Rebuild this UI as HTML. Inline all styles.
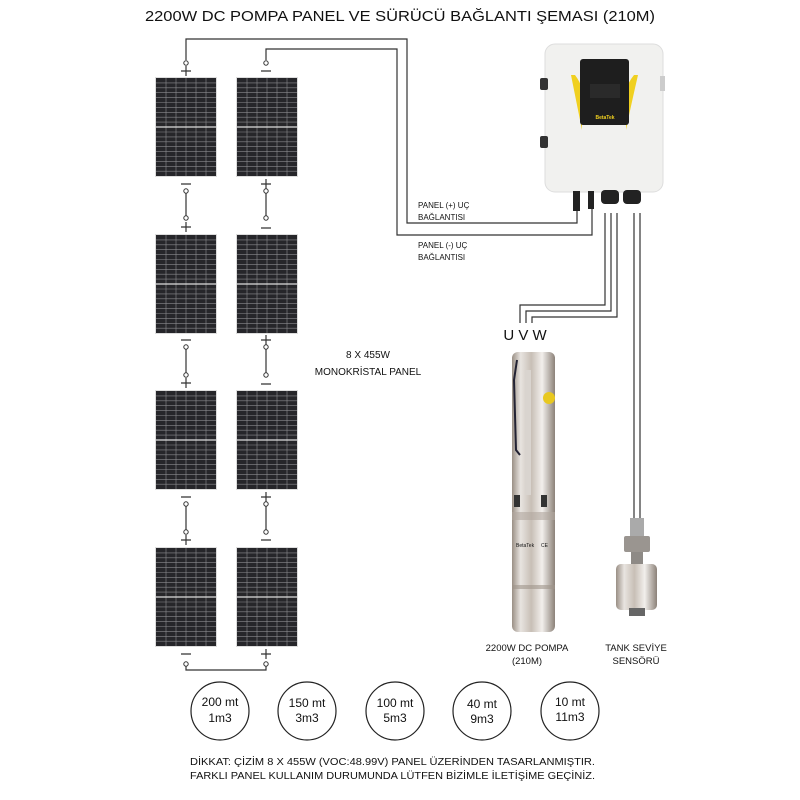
<!DOCTYPE html>
<html><head><meta charset="utf-8"><style>
body{margin:0;background:#fff}
svg{display:block}
text{font-family:"Liberation Sans",sans-serif;fill:#111}
</style></head><body>
<svg width="800" height="800" viewBox="0 0 800 800" xmlns="http://www.w3.org/2000/svg">
<defs>
<linearGradient id="steel" x1="0" x2="1">
<stop offset="0" stop-color="#9a8f85"/><stop offset="0.2" stop-color="#e8e4e0"/><stop offset="0.45" stop-color="#c8bfb6"/><stop offset="0.7" stop-color="#f2efec"/><stop offset="1" stop-color="#8c8279"/>
</linearGradient>
<g id="panel">
<rect x="-1" y="-1" width="62" height="100" fill="#ddd"/>
<rect width="60" height="98" fill="#26262a"/>
<g stroke="#8a8a8e" stroke-width="0.6">
<path d="M0 4.9H60M0 9.8H60M0 14.7H60M0 19.6H60M0 24.5H60M0 29.4H60M0 34.3H60M0 39.2H60M0 44.1H60M0 54H60M0 58.9H60M0 63.8H60M0 68.7H60M0 73.6H60M0 78.5H60M0 83.4H60M0 88.3H60M0 93.2H60"/>
<path d="M10 0V98M20 0V98M30 0V98M40 0V98M50 0V98"/>
</g>
<path d="M0 49H60" stroke="#ddd" stroke-width="1.2"/>
</g>
</defs>

<text x="145" y="21" font-size="14.5" textLength="510" lengthAdjust="spacingAndGlyphs">2200W DC POMPA PANEL VE SÜRÜCÜ BAĞLANTI ŞEMASI (210M)</text>

<use href="#panel" x="156" y="78"/><use href="#panel" x="237" y="78"/>
<use href="#panel" x="156" y="235"/><use href="#panel" x="237" y="235"/>
<use href="#panel" x="156" y="391"/><use href="#panel" x="237" y="391"/>
<use href="#panel" x="156" y="548"/><use href="#panel" x="237" y="548"/>

<g stroke="#333" stroke-width="1.2" fill="none">
<path d="M186 60V39H407V223H577V205"/>
<path d="M266 60V49H397V235H592V205"/>
<path d="M186 191V218M266 191V218M186 347V375M266 347V375M186 504V532M266 504V532"/>
<path d="M186 664V670H266V664"/>
<path d="M605 213V305H520V323M611 213V311H526V323M617 213V317H532V323"/>
<path d="M634 213V520M640 213V520"/>
</g>
<g fill="#fff" stroke="#333" stroke-width="1">
<circle cx="186" cy="63" r="2.2"/><circle cx="266" cy="63" r="2.2"/>
<circle cx="186" cy="191" r="2.2"/><circle cx="186" cy="218" r="2.2"/><circle cx="266" cy="191" r="2.2"/><circle cx="266" cy="218" r="2.2"/>
<circle cx="186" cy="347" r="2.2"/><circle cx="186" cy="375" r="2.2"/><circle cx="266" cy="347" r="2.2"/><circle cx="266" cy="375" r="2.2"/>
<circle cx="186" cy="504" r="2.2"/><circle cx="186" cy="532" r="2.2"/><circle cx="266" cy="504" r="2.2"/><circle cx="266" cy="532" r="2.2"/>
<circle cx="186" cy="664" r="2.2"/><circle cx="266" cy="664" r="2.2"/>
</g>
<g stroke="#333" stroke-width="1.2">
<path d="M181 71H191M186 66V76M261 71H271"/>
<path d="M181 184H191M261 184H271M266 179V189"/>
<path d="M181 227H191M186 222V232M261 228H271"/>
<path d="M181 340H191M261 340H271M266 335V345"/>
<path d="M181 383H191M186 378V388M261 384H271"/>
<path d="M181 497H191M261 497H271M266 492V502"/>
<path d="M181 540H191M186 535V545M261 540H271"/>
<path d="M181 654H191M261 654H271M266 649V659"/>
</g>

<text x="368" y="358" font-size="10" text-anchor="middle">8 X 455W</text>
<text x="368" y="375" font-size="10" text-anchor="middle">MONOKRİSTAL PANEL</text>
<text x="418" y="208" font-size="8">PANEL (+) UÇ</text>
<text x="418" y="220" font-size="8">BAĞLANTISI</text>
<text x="418" y="248" font-size="8">PANEL (-) UÇ</text>
<text x="418" y="260" font-size="8">BAĞLANTISI</text>

<rect x="545" y="44" width="118" height="148" rx="10" fill="#f1f1ef" stroke="#ddd"/>
<rect x="540" y="78" width="8" height="12" rx="2" fill="#333"/><rect x="540" y="136" width="8" height="12" rx="2" fill="#333"/>
<rect x="660" y="76" width="5" height="15" fill="#ccc"/>
<path d="M571 75 Q578 110 582 130 L582 125 Q590 95 575 75Z" fill="#f0d020"/>
<path d="M638 75 Q630 110 626 130 L626 125 Q618 95 634 75Z" fill="#f0d020"/>
<rect x="580" y="59" width="49" height="66" rx="3" fill="#1e1e1e"/>
<rect x="590" y="84" width="30" height="14" fill="#2a2a2a"/>
<text x="605" y="119" font-size="5" text-anchor="middle" font-weight="bold" style="fill:#f0d020">BetaTek</text>
<rect x="573" y="191" width="7" height="20" fill="#222"/><rect x="588" y="191" width="6" height="18" fill="#222"/>
<rect x="601" y="190" width="18" height="14" rx="4" fill="#222"/><rect x="623" y="190" width="18" height="14" rx="4" fill="#222"/>

<text x="525" y="340" font-size="15" text-anchor="middle">U V W</text>

<rect x="512" y="352" width="43" height="280" rx="6" fill="url(#steel)"/>
<rect x="512" y="512" width="43" height="8" fill="#b0a79e" opacity="0.6"/>
<rect x="512" y="585" width="43" height="4" fill="#9e958b" opacity="0.6"/>
<path d="M517 360 L514 380 L516 450 L520 455" stroke="#223" stroke-width="2" fill="none"/>
<rect x="525" y="370" width="6" height="125" fill="#d9d4cf"/>
<circle cx="549" cy="398" r="6" fill="#e8c820"/>
<path d="M514 495h6v12h-6zM541 495h6v12h-6z" fill="#333"/>
<text x="516" y="547" font-size="5">BetaTek</text><text x="541" y="547" font-size="5">CE</text>

<rect x="630" y="518" width="14" height="18" fill="#aaa"/>
<rect x="624" y="536" width="26" height="16" rx="2" fill="#9a9590"/>
<rect x="631" y="552" width="12" height="12" fill="#8e8a86"/>
<rect x="616" y="564" width="41" height="46" rx="5" fill="url(#steel)"/>
<rect x="629" y="608" width="16" height="8" fill="#666"/>

<text x="527" y="651" font-size="9.5" text-anchor="middle">2200W DC POMPA</text>
<text x="527" y="664" font-size="9.5" text-anchor="middle">(210M)</text>
<text x="636" y="651" font-size="9.5" text-anchor="middle">TANK SEVİYE</text>
<text x="636" y="664" font-size="9.5" text-anchor="middle">SENSÖRÜ</text>

<g fill="none" stroke="#222" stroke-width="1.2">
<circle cx="220" cy="711" r="29"/><circle cx="307" cy="711" r="29"/><circle cx="395" cy="711" r="29"/><circle cx="482" cy="711" r="29"/><circle cx="570" cy="711" r="29"/>
</g>
<g font-size="12" text-anchor="middle">
<text x="220" y="706">200 mt</text><text x="220" y="722">1m3</text>
<text x="307" y="707">150 mt</text><text x="307" y="722">3m3</text>
<text x="395" y="707">100 mt</text><text x="395" y="722">5m3</text>
<text x="482" y="708">40 mt</text><text x="482" y="723">9m3</text>
<text x="570" y="706">10 mt</text><text x="570" y="721">11m3</text>
</g>
<text x="190" y="765" font-size="10" textLength="405" lengthAdjust="spacingAndGlyphs">DİKKAT: ÇİZİM 8 X 455W (VOC:48.99V) PANEL ÜZERİNDEN  TASARLANMIŞTIR.</text>
<text x="190" y="779" font-size="10" textLength="405" lengthAdjust="spacingAndGlyphs">FARKLI PANEL KULLANIM DURUMUNDA LÜTFEN BİZİMLE İLETİŞİME GEÇİNİZ.</text>
</svg>
</body></html>
